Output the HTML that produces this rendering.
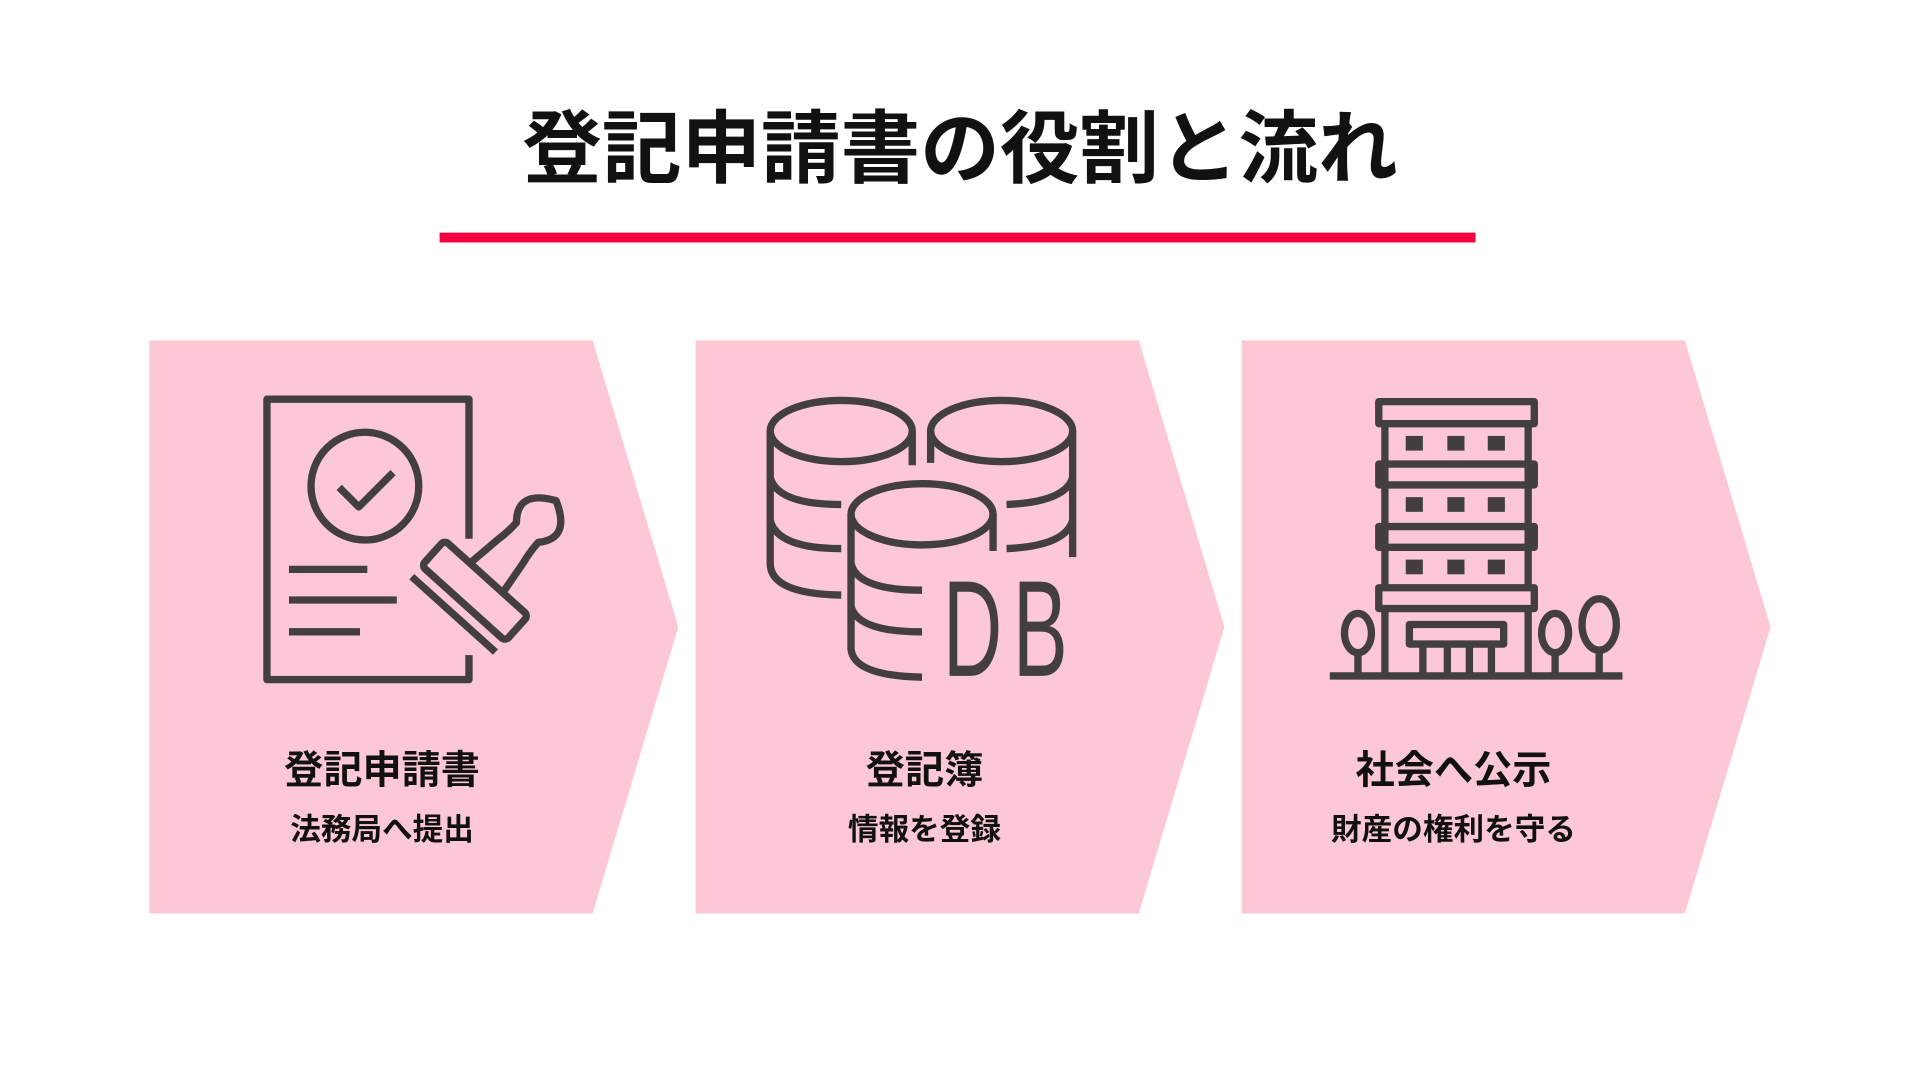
<!DOCTYPE html>
<html><head><meta charset="utf-8"><style>
html,body{margin:0;padding:0;background:#fff;width:1920px;height:1080px;overflow:hidden}
svg{display:block}
text{font-family:"Liberation Sans","Noto Sans CJK JP",sans-serif;font-weight:bold;fill:#111}
</style></head><body>
<svg width="1920" height="1080" viewBox="0 0 1568 882" xmlns="http://www.w3.org/2000/svg">
<rect width="1568" height="882" fill="#fff"/>
<text x="784" y="144" font-size="65" text-anchor="middle">登記申請書の役割と流れ</text>
<rect x="359" y="190" width="846" height="8" fill="#f5003f"/>
<g fill="#fdc8d6">
<polygon points="122,278 484,278 554,512 484,746 122,746"/>
<polygon points="568,278 930,278 1000,512 930,746 568,746"/>
<polygon points="1014,278 1376,278 1446,512 1376,746 1014,746"/>
</g>
<g fill="none" stroke="#433f3f" stroke-width="6" stroke-linejoin="round">
<polyline points="383,440 383,326 218,326 218,555 383,555 383,535"/>
<circle cx="298" cy="397" r="44"/>
<polyline points="277,398 293,414 321,386"/>
<line x1="236" y1="465" x2="300" y2="465"/>
<line x1="236" y1="490" x2="324" y2="490"/>
<line x1="236" y1="516" x2="294" y2="516"/>
<g transform="rotate(42 395 470)">
<rect x="352" y="470" width="92" height="28" rx="4"/>
<line x1="352" y1="510" x2="444" y2="510"/>
<path d="M380,470 L384,440 Q386,430 386,420 Q368,400 398,385 Q428,400 410,420 Q410,430 412,440 L416,470"/>
</g>
<path d="M629,352 a58,25 0 1,0 116,0 a58,25 0 1,0 -116,0"/>
<path d="M629,352 V460 Q629,485 687,486"/>
<path d="M629,390 Q635,412 687,412"/>
<path d="M629,425 Q635,448 687,448"/>
<path d="M745,352 V380"/>
<path d="M760,352 a58,25 0 1,0 116,0 a58,25 0 1,0 -116,0"/>
<path d="M876,352 V455"/>
<path d="M876,390 Q870,410 822,412"/>
<path d="M876,425 Q870,446 822,448"/>
<path d="M760,352 V378"/>
<path d="M695,420 a58,25 0 1,0 116,0 a58,25 0 1,0 -116,0"/>
<path d="M695,420 V530 Q697,552 753,553"/>
<path d="M695,460 Q700,482 753,482"/>
<path d="M695,495 Q700,516 753,516"/>
<path d="M811,420 V450"/>
<rect x="1126" y="328" width="127" height="18"/>
<rect x="1126" y="379" width="127" height="17"/>
<rect x="1126" y="430" width="127" height="17"/>
<rect x="1126" y="480" width="127" height="17"/>
<line x1="1131" y1="346" x2="1131" y2="480"/>
<line x1="1248" y1="346" x2="1248" y2="480"/>
<line x1="1131" y1="497" x2="1131" y2="551"/>
<line x1="1248" y1="497" x2="1248" y2="551"/>
<rect x="1151" y="510" width="77" height="16"/>
<line x1="1162" y1="526" x2="1162" y2="551"/>
<line x1="1182" y1="526" x2="1182" y2="551"/>
<line x1="1200" y1="526" x2="1200" y2="551"/>
<line x1="1218" y1="526" x2="1218" y2="551"/>
<line x1="1086" y1="552" x2="1325" y2="552"/>
<ellipse cx="1109" cy="517" rx="11" ry="16"/>
<line x1="1109" y1="533" x2="1109" y2="551"/>
<ellipse cx="1270" cy="517" rx="11" ry="16"/>
<line x1="1270" y1="533" x2="1270" y2="551"/>
<ellipse cx="1306" cy="510" rx="14" ry="21"/>
<line x1="1306" y1="531" x2="1306" y2="551"/>
</g>
<g fill="#433f3f">
<rect x="1148" y="356" width="14" height="12"/><rect x="1182" y="356" width="14" height="12"/><rect x="1215" y="356" width="14" height="12"/>
<rect x="1148" y="406" width="14" height="12"/><rect x="1182" y="406" width="14" height="12"/><rect x="1215" y="406" width="14" height="12"/>
<rect x="1148" y="457" width="14" height="12"/><rect x="1182" y="457" width="14" height="12"/><rect x="1215" y="457" width="14" height="12"/>
</g>
<text x="770" y="552" font-size="112" style="font-weight:normal;fill:#433f3f" transform="translate(770 0) scale(0.6 1) translate(-770 0)" textLength="170">DB</text>
<text x="312" y="640" font-size="32" text-anchor="middle">登記申請書</text>
<text x="312" y="686" font-size="25" text-anchor="middle">法務局へ提出</text>
<text x="755" y="640" font-size="32" text-anchor="middle">登記簿</text>
<text x="755" y="686" font-size="25" text-anchor="middle">情報を登録</text>
<text x="1187" y="640" font-size="32" text-anchor="middle">社会へ公示</text>
<text x="1187" y="686" font-size="25" text-anchor="middle">財産の権利を守る</text>
</svg>
</body></html>
